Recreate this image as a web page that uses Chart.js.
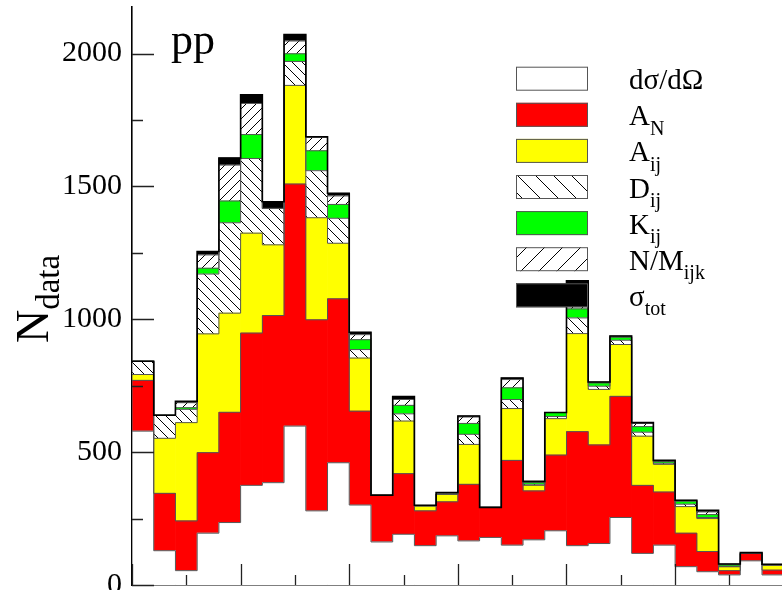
<!DOCTYPE html>
<html>
<head>
<meta charset="utf-8">
<script src="https://cdn.jsdelivr.net/npm/chart.js@4.4.1/dist/chart.umd.min.js"></script>
<style>
  html, body { margin: 0; padding: 0; background: #fff; overflow: hidden; }
  #wrap { width: 782px; height: 590px; }
</style>
</head>
<body>
<div id="wrap"><canvas id="chart" width="782" height="590"></canvas></div>
<script>
// bin centres (30 bins, 5 bins per major x tick)
const binCenters = [0.5, 1.5, 2.5, 3.5, 4.5, 5.5, 6.5, 7.5, 8.5, 9.5,
  10.5, 11.5, 12.5, 13.5, 14.5, 15.5, 16.5, 17.5, 18.5, 19.5,
  20.5, 21.5, 22.5, 23.5, 24.5, 25.5, 26.5, 27.5, 28.5, 29.5];

// counts per observable, stacked bottom to top
const dsigma = [579, 129, 54, 195, 235, 375, 385, 598, 279, 460, 301, 162, 191, 148, 185,
  166, 179, 150, 170, 204, 148, 156, 254, 119, 150, 69, 50, 38, 91, 38];
const aN = [191, 216, 187, 303, 415, 573, 629, 911, 719, 617, 353, 176, 228, 131, 128,
  213, 113, 319, 184, 285, 429, 371, 456, 256, 200, 126, 76, 16, 28, 18];
const aIJ = [22, 207, 370, 447, 373, 376, 266, 371, 384, 209, 200, 0, 198, 19, 29,
  150, 0, 195, 21, 137, 369, 209, 195, 185, 104, 100, 124, 15, 0, 19];
const dIJ = [50, 87, 50, 225, 340, 281, 137, 90, 177, 94, 32, 0, 27, 0, 0,
  38, 0, 34, 4, 8, 59, 12, 16, 15, 4, 9, 4, 0, 0, 0];
const kIJ = [0, 0, 6, 22, 82, 90, 0, 29, 75, 52, 37, 0, 32, 0, 0,
  41, 0, 44, 8, 15, 34, 13, 12, 21, 6, 12, 11, 7, 0, 0];
const nmIJK = [0, 0, 19, 50, 135, 117, 0, 48, 50, 32, 19, 0, 22, 0, 0,
  24, 0, 31, 0, 0, 70, 0, 0, 12, 3, 0, 10, 0, 0, 0];
const sigTot = [0, 0, 5, 13, 27, 33, 25, 24, 3, 10, 9, 0, 11, 2, 6,
  4, 0, 6, 3, 0, 36, 3, 4, 3, 2, 3, 6, 3, 3, 3];

const yTicks = [0, 500, 1000, 1500, 2000];

const SERIF = '"Liberation Serif", "Times New Roman", serif';

const canvas = document.getElementById("chart");
const ctx = canvas.getContext("2d");

function makeHatch(dir, step) {
  const c = document.createElement("canvas");
  c.width = step;
  c.height = step;
  const g = c.getContext("2d");
  g.fillStyle = "#fff";
  g.fillRect(0, 0, step, step);
  g.strokeStyle = "#000";
  g.lineWidth = 1;
  g.beginPath();
  if (dir === "back") {
    g.moveTo(-1, -1); g.lineTo(step + 1, step + 1);
    g.moveTo(-2, step - 2); g.lineTo(2, step + 2);
    g.moveTo(step - 2, -2); g.lineTo(step + 2, 2);
  } else {
    g.moveTo(-1, step + 1); g.lineTo(step + 1, -1);
    g.moveTo(-2, 2); g.lineTo(2, -2);
    g.moveTo(step - 2, step + 2); g.lineTo(step + 2, step - 2);
  }
  g.stroke();
  return ctx.createPattern(c, "repeat");
}

const backHatch = makeHatch("back", 10);
const fwdHatch = makeHatch("fwd", 10);
const backHatchBig = makeHatch("back", 18);
const fwdHatchBig = makeHatch("fwd", 18);

function toPoints(values) {
  return values.map((v, i) => ({ x: binCenters[i], y: v }));
}

function layer(label, values, fill) {
  return {
    label: label,
    data: toPoints(values),
    backgroundColor: fill,
    borderWidth: 0,
    barPercentage: 1.0,
    categoryPercentage: 1.0,
  };
}

// legend rows: box fill, main text, subscript
const legendRows = [
  { fill: "#ffffff", main: "dσ/dΩ", sub: "" },
  { fill: "#ff0000", main: "A", sub: "N" },
  { fill: "#ffff00", main: "A", sub: "ij" },
  { fill: backHatchBig, main: "D", sub: "ij" },
  { fill: "#00ff00", main: "K", sub: "ij" },
  { fill: fwdHatchBig, main: "N/M", sub: "ijk" },
  { fill: "#000000", main: "σ", sub: "tot" },
];

const stepOutline = {
  id: "stepOutline",
  afterDatasetsDraw(chart) {
    const c = chart.ctx;
    const area = chart.chartArea;
    const n = chart.data.datasets.length;
    c.save();
    c.beginPath();
    c.rect(area.left, area.top, area.right - area.left, area.bottom - area.top);
    c.clip();
    for (let d = 0; d < n; d++) {
      const bars = chart.getDatasetMeta(d).data;
      c.beginPath();
      bars.forEach((b, i) => {
        const l = b.x - b.width / 2;
        const r = b.x + b.width / 2;
        if (i === 0) c.moveTo(l, b.base);
        c.lineTo(l, b.y);
        c.lineTo(r, b.y);
      });
      const last = bars[bars.length - 1];
      c.lineTo(last.x + last.width / 2, last.base);
      c.strokeStyle = d === n - 1 ? "#000" : "#555";
      c.lineWidth = d === n - 1 ? 1.6 : 1;
      c.stroke();
    }
    c.restore();

    // inward tick marks
    const xs = chart.scales.x;
    const ys = chart.scales.y;
    c.save();
    c.strokeStyle = "#222";
    c.lineWidth = 1.3;
    c.beginPath();
    for (let v = 0; v <= ys.max; v += 250) {
      const py = Math.round(ys.getPixelForValue(v)) + 0.5;
      const len = v % 500 === 0 ? 22 : 11;
      c.moveTo(area.left, py);
      c.lineTo(area.left + len, py);
    }
    for (let v = 0; v <= xs.max; v += 2.5) {
      const px = Math.round(xs.getPixelForValue(v)) + 0.5;
      const len = v % 5 === 0 ? 21 : 10;
      c.moveTo(px, area.bottom);
      c.lineTo(px, area.bottom - len);
    }
    c.stroke();
    c.restore();
  },
  afterDraw(chart) {
    const c = chart.ctx;
    c.save();
    // legend
    const bx = 516, bw = 72, bh = 24, by0 = 66.7, gap = 36.1;
    legendRows.forEach((row, k) => {
      const y = by0 + k * gap;
      c.fillStyle = row.fill;
      c.fillRect(bx, y, bw, bh);
      c.strokeStyle = "#555";
      c.lineWidth = 1;
      c.strokeRect(bx + 0.5, y + 0.5, bw - 1, bh - 1);
      c.fillStyle = "#000";
      c.textBaseline = "alphabetic";
      c.textAlign = "left";
      c.font = "29px " + SERIF;
      const base = y + bh - 1.5;
      c.fillText(row.main, 629, base);
      if (row.sub) {
        const w = c.measureText(row.main).width;
        c.font = "20px " + SERIF;
        c.fillText(row.sub, 629 + w, base + 9.5);
      }
    });

    // panel label
    c.font = "44px " + SERIF;
    c.fillText("pp", 171, 53.5);

    // y axis title N_data
    c.translate(48, 343);
    c.rotate(-Math.PI / 2);
    c.font = "46px " + SERIF;
    c.fillText("N", 0, 0);
    const nw = c.measureText("N").width;
    c.font = "33px " + SERIF;
    c.fillText("data", nw, 11);
    c.restore();
  },
};

new Chart(ctx, {
  type: "bar",
  data: {
    datasets: [
      layer("dσ/dΩ", dsigma, "#ffffff"),
      layer("A_N", aN, "#ff0000"),
      layer("A_ij", aIJ, "#ffff00"),
      layer("D_ij", dIJ, backHatch),
      layer("K_ij", kIJ, "#00ff00"),
      layer("N/M_ijk", nmIJK, fwdHatch),
      layer("σ_tot", sigTot, "#000000"),
    ],
  },
  options: {
    responsive: false,
    animation: false,
    devicePixelRatio: 1,
    layout: { padding: { top: 7, left: 0, right: 0, bottom: 0 } },
    plugins: {
      legend: { display: false },
      tooltip: { enabled: false },
      title: { display: false },
    },
    scales: {
      x: {
        type: "linear",
        stacked: true,
        offset: false,
        min: 0,
        max: 29.92,
        grid: { display: false, drawTicks: false },
        border: { display: true, color: "#000", width: 1.6 },
        ticks: { display: false },
        afterFit(scale) {
          scale.height = 5;
          scale.paddingLeft = 0;
          scale.paddingRight = 0;
        },
      },
      y: {
        stacked: true,
        min: 0,
        max: 2175,
        grid: { display: false, drawTicks: false },
        border: { display: true, color: "#000", width: 1.6 },
        ticks: {
          stepSize: 250,
          includeBounds: false,
          padding: 10,
          color: "#000",
          font: { family: SERIF, size: 30 },
          callback: (v) => (yTicks.includes(v) ? String(v) : ""),
        },
        afterFit(scale) {
          scale.width = 132;
          scale.paddingTop = 0;
          scale.paddingBottom = 0;
        },
      },
    },
  },
  plugins: [stepOutline],
});
</script>
</body>
</html>
